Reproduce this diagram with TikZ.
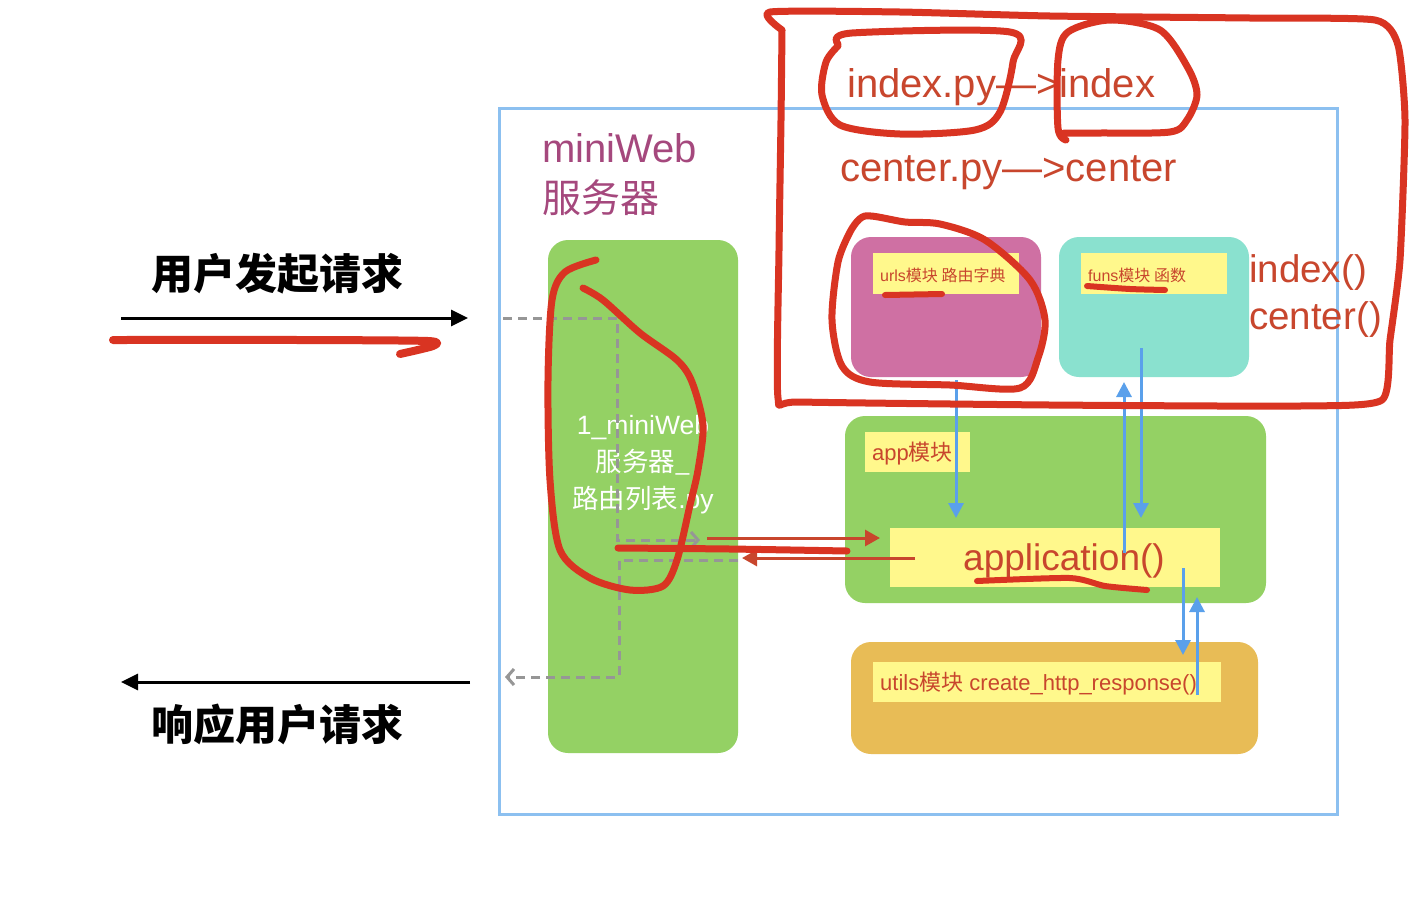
\documentclass[tikz,border=0pt]{standalone}
\usepackage{fontspec}
\setmainfont{Liberation Sans}
\newfontfamily\zh{Noto Sans CJK SC}
\usetikzlibrary{arrows.meta}
\definecolor{boxgreen}{RGB}{148,209,100}
\definecolor{boxpink}{RGB}{207,112,163}
\definecolor{boxteal}{RGB}{138,225,207}
\definecolor{boxorange}{RGB}{232,188,86}
\definecolor{labyellow}{RGB}{255,248,140}
\definecolor{txtred}{RGB}{200,70,45}
\definecolor{penred}{RGB}{217,52,34}
\definecolor{arrblue}{RGB}{90,160,235}
\definecolor{frameblue}{RGB}{140,192,240}
\definecolor{txtpurple}{RGB}{165,72,125}
\definecolor{dashgray}{RGB}{150,150,150}
\tikzset{
  roundbox/.style={rounded corners=20pt, inner sep=0pt, draw=none},
  labbox/.style={fill=labyellow, inner sep=0pt, draw=none},
  blackarrow/.style={line width=3pt, -{Triangle[length=17pt,width=16pt]}},
  bluearrow/.style={arrblue, line width=3pt, -{Triangle[length=15pt,width=15pt]}},
  redarrow/.style={txtred, line width=3pt, -{Triangle[length=15pt,width=16pt]}},
  grayflow/.style={dashgray, line width=3pt, dash pattern=on 9pt off 6pt, -{Straight Barb[length=7pt,width=16pt]}},
  pen/.style={penred, line width=7pt, line cap=round, line join=round},
  bigtxt/.style={txtred, inner sep=0pt, font=\fontsize{40}{46}\selectfont},
}
\begin{document}
\begin{tikzpicture}[x=1pt,y=-1pt]
\useasboundingbox[fill=white] (0,0) rectangle (1416,906);

% server frame
\node[draw=frameblue, line width=3pt, minimum width=838pt, minimum height=706pt, inner sep=0pt] (server) at (918,461) {};
\node[anchor=north west, txtpurple, inner sep=0pt, align=left, font=\fontsize{40}{48}\selectfont] (srvtitle) at (542,133) {miniWeb\\[2pt]{\zh\fontsize{39}{48}\selectfont 服务器}};

% router list module
\node[roundbox, fill=boxgreen, minimum width=190pt, minimum height=513pt] (router) at (643,496.5) {};
\node[white, inner sep=0pt, align=center, font=\fontsize{26.5}{37}\selectfont] (routertxt) at (643,465) {1\_miniWeb\\{\zh 服务器\_}\\{\zh 路由列表}.py};

% urls / funs
\node[roundbox, fill=boxpink, minimum width=190pt, minimum height=140pt] (urls) at (946,307) {};
\node[labbox, minimum width=146pt, minimum height=41pt] (urlslab) at (946,273.5) {};
\node[anchor=west, txtred, inner sep=0pt, font=\fontsize{16}{18}\selectfont] (urlstxt) at (880,275) {urls{\zh 模块 路由字典}};
\node[roundbox, fill=boxteal, minimum width=190pt, minimum height=140pt] (funs) at (1154,307) {};
\node[labbox, minimum width=146pt, minimum height=41pt] (funslab) at (1154,273.5) {};
\node[anchor=west, txtred, inner sep=0pt, font=\fontsize{16}{18}\selectfont] (funstxt) at (1088,275) {funs{\zh 模块 函数}};

% app
\node[roundbox, fill=boxgreen, minimum width=421pt, minimum height=187pt] (app) at (1055.5,509.5) {};
\node[labbox, minimum width=105pt, minimum height=40pt] (applab) at (917.5,452) {};
\node[anchor=west, txtred, inner sep=0pt, font=\fontsize{22}{24}\selectfont] (apptxt) at (872,454) {app{\zh 模块}};
\node[labbox, minimum width=330pt, minimum height=59pt] (appfn) at (1055,557.5) {};
\node[txtred, inner sep=0pt, font=\fontsize{37}{40}\selectfont] (appfntxt) at (1064,561) {application()};

% utils
\node[roundbox, fill=boxorange, minimum width=407pt, minimum height=112pt] (utils) at (1054.5,698) {};
\node[labbox, minimum width=348pt, minimum height=40pt] (utilslab) at (1047,682) {};
\node[anchor=west, txtred, inner sep=0pt, font=\fontsize{22}{24}\selectfont] (utilstxt) at (880,684) {utils{\zh 模块} create\_http\_response()};

% big red labels
\node[bigtxt, anchor=west] (idx) at (847,87) {index.py—>index};
\node[bigtxt, anchor=west] (ctr) at (840,173) {center.py—>center};
\node[bigtxt, anchor=north west, align=left, font=\fontsize{38.5}{47}\selectfont] (fnames) at (1249,254) {index()\\center()};

% user request / response
\node[inner sep=0pt, font=\fontsize{42}{46}\selectfont\zh\bfseries] (req) at (277,274) {用户发起请求};
\node[inner sep=0pt, font=\fontsize{42}{46}\selectfont\zh\bfseries] (resp) at (277,724) {响应用户请求};
\coordinate (reqA) at (121,318);
\coordinate (reqB) at (468,318);
\coordinate (respA) at (470,682);
\coordinate (respB) at (121,682);
\draw[blackarrow] (reqA) -- (reqB);
\draw[blackarrow] (respA) -- (respB);

% gray dashed flow
\coordinate (g1) at (503,318);
\coordinate (g2) at (617,318);
\coordinate (g3) at (617,540);
\coordinate (g4) at (700,540);
\coordinate (h1) at (738,560);
\coordinate (h2) at (619,560);
\coordinate (h3) at (619,677);
\coordinate (h4) at (505,677);
\draw[grayflow] (g1) -- (g2) -- (g3) -- (g4);
\draw[grayflow] (h1) -- (h2) -- (h3) -- (h4);

% red thin arrows
\coordinate (r1) at (707,538);
\coordinate (r2) at (880,538);
\coordinate (r3) at (915,558);
\coordinate (r4) at (742,558);
\draw[redarrow] (r1) -- (r2);
\draw[redarrow] (r3) -- (r4);

% blue arrows
\coordinate (b1) at (956,380);
\coordinate (b2) at (956,518);
\coordinate (b3) at (1141,348);
\coordinate (b4) at (1141,518);
\coordinate (b5) at (1124,553);
\coordinate (b6) at (1124,382);
\coordinate (b7) at (1183,568);
\coordinate (b8) at (1183,655);
\coordinate (b9) at (1197,695);
\coordinate (b10) at (1197,597);
\draw[bluearrow] (b1) -- (b2);
\draw[bluearrow] (b3) -- (b4);
\draw[bluearrow] (b5) -- (b6);
\draw[bluearrow] (b7) -- (b8);
\draw[bluearrow] (b9) -- (b10);

% hand-drawn red annotations
\draw[pen, line width=8pt] plot[smooth, tension=0.4] coordinates {(113,340) (300,340) (428,341) (433,346) (400,354)};
\draw[pen] plot[smooth, tension=0.4] coordinates {(618,548) (730,549) (847,551)};
\draw[pen, line width=6pt] plot[smooth, tension=0.4] coordinates {(885,295) (942,294)};
\draw[pen, line width=6pt] plot[smooth, tension=0.4] coordinates {(1087,286) (1130,289) (1165,290)};
\draw[pen, line width=6pt] plot[smooth, tension=0.4] coordinates {(977,581) (1070,578) (1105,586) (1147,590)};
% left tall loop
\draw[pen] plot[smooth, tension=0.5] coordinates {(583,288) (603,300) (640,333) (677,360) (692,382) (703,425) (698,470) (690,505) (677,560) (663,586) (630,590) (590,578) (560,550) (550,480) (548,380) (552,300) (565,272) (596,260)};
% urls loop
\draw[pen] plot[smooth, tension=0.5] coordinates {(850,232) (865,216) (905,222) (940,224) (985,240) (1030,280) (1045,320) (1038,358) (1020,388) (950,385) (870,382) (842,366) (832,320) (838,262) (850,232)};
% index.py loop
\draw[pen] plot[smooth, tension=0.5] coordinates {(838,44) (852,33) (1010,32) (1013,62) (1000,112) (975,130) (900,134) (840,125) (822,95) (826,62) (838,46)};
% index loop
\draw[pen] plot[smooth, tension=0.5] coordinates {(1066,140) (1058,128) (1058,60) (1068,32) (1110,20) (1160,30) (1188,68) (1197,95) (1187,120) (1170,132) (1100,133) (1064,133)};
% big outer loop
\draw[pen] plot[smooth, tension=0.35] coordinates {(782,30) (770,12) (900,12) (1050,16) (1250,18) (1375,20) (1398,45) (1405,120) (1400,260) (1390,340) (1382,400) (1300,406) (1050,405) (800,402) (778,398) (779,250) (781,120) (782,30)};
\end{tikzpicture}
\end{document}
